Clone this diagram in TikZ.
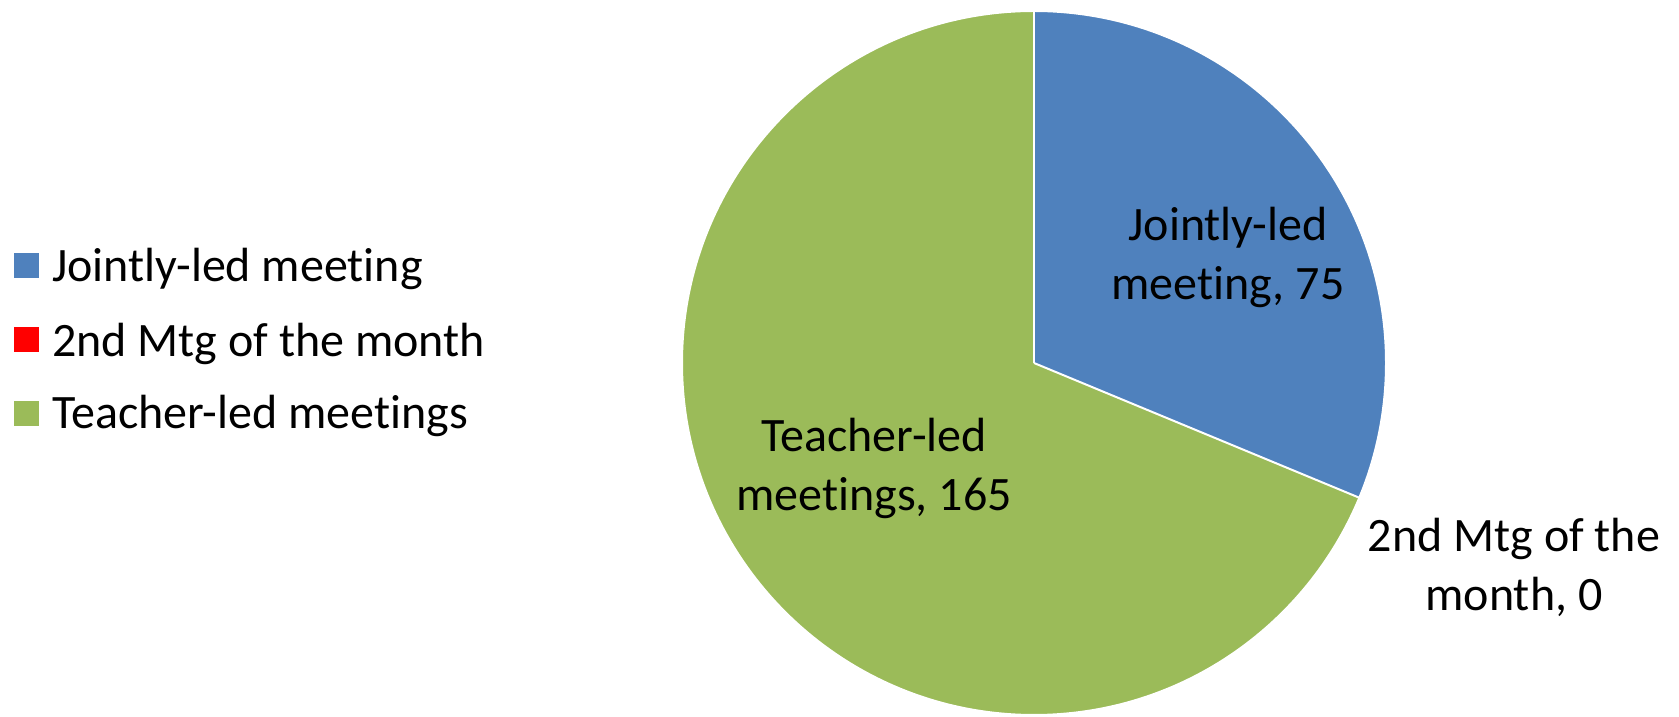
\documentclass[tikz,border=0pt]{standalone}
\usepackage{fontspec}
\setmainfont{Carlito}[Ligatures=NoCommon]
\definecolor{jointblue}{HTML}{4F81BD}
\definecolor{mtgred}{HTML}{FF0000}
\definecolor{teachgreen}{HTML}{9BBB59}
% keep "t" and "i" apart (no ti ligature)
\newcommand{\tisep}{\kern0pt}
\tikzset{
  slice/.style={draw=white, line width=2pt, line join=round},
  legsq/.style={minimum size=25pt, inner sep=0pt, draw=none},
  legtxt/.style={anchor=base west, inner sep=0pt},
  pielbl/.style={align=center, inner sep=0pt}
}
\begin{document}
\begin{tikzpicture}[x=1pt, y=1pt, font=\fontsize{48}{59}\selectfont]
  \useasboundingbox (0,0) rectangle (1679,717);
  \coordinate (ctr) at (1034,354);

  % pie slices
  \fill[jointblue] (ctr) -- ++(90:352) arc (90:-22.5:352) -- cycle;
  \fill[teachgreen] (ctr) -- ++(-22.5:352) arc (-22.5:-270:352) -- cycle;
  \draw[slice] (ctr) -- ++(90:352);
  \draw[slice] (ctr) -- ++(-22.5:352);
  \draw[slice] (ctr) circle (352);

  % slice labels
  \node[pielbl] (lblA) at (1228,460) {Jointly-led\\meet\tisep ing, 75};
  \node[pielbl] (lblC) at (874,249) {Teacher-led\\meet\tisep ings, 165};
  \node[pielbl] (lblB) at (1514,150) {2nd Mtg of the\\month, 0};

  % legend
  \node[legsq, fill=jointblue] (sqA) at (26,451.5) {};
  \node[legsq, fill=mtgred] (sqB) at (26,377) {};
  \node[legsq, fill=teachgreen] (sqC) at (26,303.5) {};
  \node[legtxt] (txtA) at (52,435) {Jointly-led meet\tisep ing};
  \node[legtxt] (txtB) at (52,360) {2nd Mtg of the month};
  \node[legtxt] (txtC) at (52,288) {Teacher-led meet\tisep ings};
\end{tikzpicture}
\end{document}
